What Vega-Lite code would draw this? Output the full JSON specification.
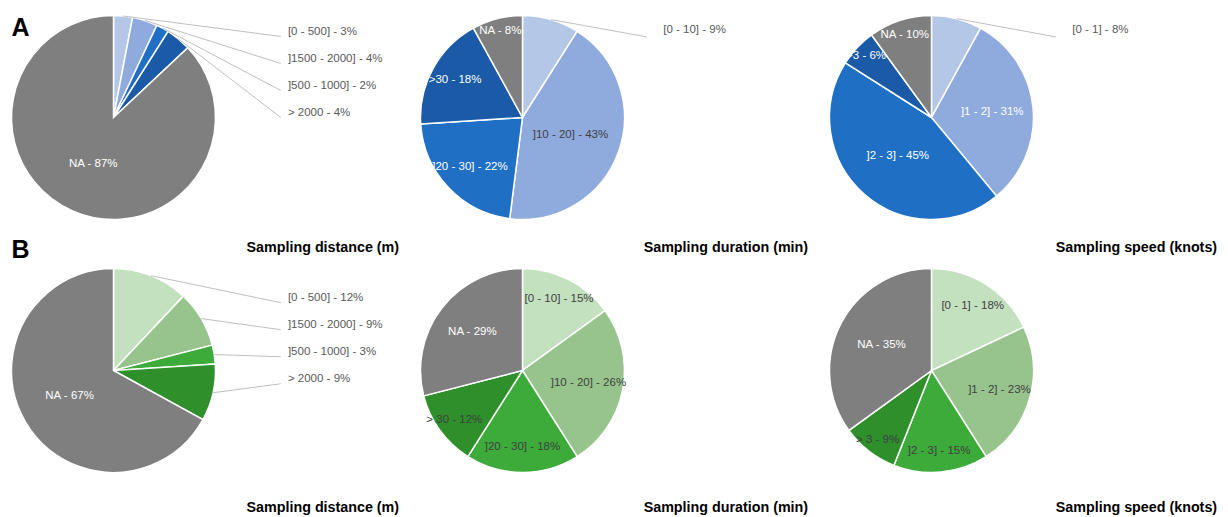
{
  "$schema": "https://vega.github.io/schema/vega-lite/v6.json",
  "padding": 0,
  "background": "white",
  "data": {
    "values": [
      {"group": "A", "variable": "Sampling distance (m)", "cat": "[0 - 500]", "pct": 3, "ord": 1},
      {"group": "A", "variable": "Sampling distance (m)", "cat": "]1500 - 2000]", "pct": 4, "ord": 2},
      {"group": "A", "variable": "Sampling distance (m)", "cat": "]500 - 1000]", "pct": 2, "ord": 3},
      {"group": "A", "variable": "Sampling distance (m)", "cat": "> 2000", "pct": 4, "ord": 4},
      {"group": "A", "variable": "Sampling distance (m)", "cat": "NA", "pct": 87, "ord": 5},
      {"group": "A", "variable": "Sampling duration (min)", "cat": "[0 - 10]", "pct": 9, "ord": 1},
      {"group": "A", "variable": "Sampling duration (min)", "cat": "]10 - 20]", "pct": 43, "ord": 2},
      {"group": "A", "variable": "Sampling duration (min)", "cat": "]20 - 30]", "pct": 22, "ord": 3},
      {"group": "A", "variable": "Sampling duration (min)", "cat": ">30", "pct": 18, "ord": 4},
      {"group": "A", "variable": "Sampling duration (min)", "cat": "NA", "pct": 8, "ord": 5},
      {"group": "A", "variable": "Sampling speed (knots)", "cat": "[0 - 1]", "pct": 8, "ord": 1},
      {"group": "A", "variable": "Sampling speed (knots)", "cat": "]1 - 2]", "pct": 31, "ord": 2},
      {"group": "A", "variable": "Sampling speed (knots)", "cat": "]2 - 3]", "pct": 45, "ord": 3},
      {"group": "A", "variable": "Sampling speed (knots)", "cat": ">3", "pct": 6, "ord": 4},
      {"group": "A", "variable": "Sampling speed (knots)", "cat": "NA", "pct": 10, "ord": 5},
      {"group": "B", "variable": "Sampling distance (m)", "cat": "[0 - 500]", "pct": 12, "ord": 1},
      {"group": "B", "variable": "Sampling distance (m)", "cat": "]1500 - 2000]", "pct": 9, "ord": 2},
      {"group": "B", "variable": "Sampling distance (m)", "cat": "]500 - 1000]", "pct": 3, "ord": 3},
      {"group": "B", "variable": "Sampling distance (m)", "cat": "> 2000", "pct": 9, "ord": 4},
      {"group": "B", "variable": "Sampling distance (m)", "cat": "NA", "pct": 67, "ord": 5},
      {"group": "B", "variable": "Sampling duration (min)", "cat": "[0 - 10]", "pct": 15, "ord": 1},
      {"group": "B", "variable": "Sampling duration (min)", "cat": "]10 - 20]", "pct": 26, "ord": 2},
      {"group": "B", "variable": "Sampling duration (min)", "cat": "]20 - 30]", "pct": 18, "ord": 3},
      {"group": "B", "variable": "Sampling duration (min)", "cat": "> 30", "pct": 12, "ord": 4},
      {"group": "B", "variable": "Sampling duration (min)", "cat": "NA", "pct": 29, "ord": 5},
      {"group": "B", "variable": "Sampling speed (knots)", "cat": "[0 - 1]", "pct": 18, "ord": 1},
      {"group": "B", "variable": "Sampling speed (knots)", "cat": "]1 - 2]", "pct": 23, "ord": 2},
      {"group": "B", "variable": "Sampling speed (knots)", "cat": "]2 - 3]", "pct": 15, "ord": 3},
      {"group": "B", "variable": "Sampling speed (knots)", "cat": "> 3", "pct": 9, "ord": 4},
      {"group": "B", "variable": "Sampling speed (knots)", "cat": "NA", "pct": 35, "ord": 5}
    ]
  },
  "transform": [
    {"window": [{"op": "sum", "field": "pct", "as": "cum"}], "groupby": ["group", "variable"], "sort": [{"field": "ord", "order": "ascending"}], "frame": [null, 0]},
    {"calculate": "datum.cum - datum.pct", "as": "start"},
    {"calculate": "(datum.cum - datum.pct / 2) / 100 * 2 * PI", "as": "ang"},
    {"calculate": "datum.variable === 'Sampling distance (m)'", "as": "isDist"},
    {"calculate": "datum.cat !== 'NA' && (datum.isDist || (datum.group === 'A' && datum.ord === 1))", "as": "outside"},
    {"calculate": "max(0.5, min(0.88, 0.97 - 0.012 * datum.pct))", "as": "lr"},
    {"calculate": "datum.outside ? (datum.isDist ? 1.71 : 1.38) : datum.lr * sin(datum.ang)", "as": "lx"},
    {"calculate": "datum.outside ? (datum.isDist ? (datum.group === 'A' ? 0.84 : 0.71) - 0.265 * (datum.ord - 1) : 0.86) : datum.lr * cos(datum.ang)", "as": "ly"},
    {"calculate": "sin(datum.ang)", "as": "ex"},
    {"calculate": "cos(datum.ang)", "as": "ey"},
    {"calculate": "datum.lx - (datum.isDist ? 0.07 : 0.16)", "as": "px"},
    {"calculate": "datum.ly - (datum.isDist ? 0.045 : 0.07)", "as": "py"},
    {"calculate": "datum.cat + ' - ' + datum.pct + '%'", "as": "label"},
    {"calculate": "datum.group + datum.ord", "as": "key"},
    {"calculate": "datum.group === 'A' ? -1.28 : -1.348", "as": "ty"},
    {"calculate": "datum.group === 'A' ? 0.80 : 1.103", "as": "gy"}
  ],
  "facet": {
    "row": {"field": "group", "type": "nominal", "header": null},
    "column": {"field": "variable", "type": "nominal", "header": null, "sort": ["Sampling distance (m)", "Sampling duration (min)", "Sampling speed (knots)"]}
  },
  "spacing": {"row": 0, "column": 0},
  "bounds": "flush",
  "spec": {
    "width": 409,
    "height": 253,
    "layer": [
      {
        "mark": {"type": "arc", "outerRadius": 102, "stroke": "white", "strokeWidth": 1.5},
        "encoding": {
          "x": {"datum": 0, "type": "quantitative", "scale": {"domain": [-1.1127, 2.8971], "nice": false, "zero": false}, "axis": null},
          "y": {"datum": 0, "type": "quantitative", "scale": {"domain": [-1.3284, 1.152], "nice": false, "zero": false}, "axis": null},
          "theta": {"field": "start", "type": "quantitative", "scale": {"domain": [0, 100]}},
          "theta2": {"field": "cum"},
          "color": {
            "field": "key", "type": "nominal", "legend": null,
            "scale": {
              "domain": ["A1", "A2", "A3", "A4", "A5", "B1", "B2", "B3", "B4", "B5"],
              "range": ["#b4c7e7", "#8faadc", "#1f6fc5", "#1a5aa6", "#7f7f7f", "#c3e0bf", "#96c48c", "#3dab3a", "#2e8f2b", "#7f7f7f"]
            }
          }
        }
      },
      {
        "transform": [{"filter": "datum.outside"}],
        "mark": {"type": "rule", "color": "#bfbfbf", "strokeWidth": 1},
        "encoding": {
          "x": {"field": "ex", "type": "quantitative", "scale": {"domain": [-1.1127, 2.8971], "nice": false, "zero": false}, "axis": null},
          "y": {"field": "ey", "type": "quantitative", "scale": {"domain": [-1.3284, 1.152], "nice": false, "zero": false}, "axis": null},
          "x2": {"field": "px"},
          "y2": {"field": "py"}
        }
      },
      {
        "transform": [{"filter": "!datum.outside"}],
        "mark": {"type": "text", "align": "center", "baseline": "middle", "font": "Liberation Sans", "fontSize": 11.5},
        "encoding": {
          "x": {"field": "lx", "type": "quantitative", "scale": {"domain": [-1.1127, 2.8971], "nice": false, "zero": false}, "axis": null},
          "y": {"field": "ly", "type": "quantitative", "scale": {"domain": [-1.3284, 1.152], "nice": false, "zero": false}, "axis": null},
          "text": {"field": "label", "type": "nominal"},
          "color": {
            "condition": {"test": "datum.cat === 'NA' || (datum.group === 'A' && (datum.ord >= 3 || datum.variable === 'Sampling speed (knots)'))", "value": "#ffffff"},
            "value": "#404040"
          }
        }
      },
      {
        "transform": [{"filter": "datum.outside"}],
        "mark": {"type": "text", "align": "left", "baseline": "middle", "font": "Liberation Sans", "fontSize": 11.5, "color": "#595959"},
        "encoding": {
          "x": {"field": "lx", "type": "quantitative", "scale": {"domain": [-1.1127, 2.8971], "nice": false, "zero": false}, "axis": null},
          "y": {"field": "ly", "type": "quantitative", "scale": {"domain": [-1.3284, 1.152], "nice": false, "zero": false}, "axis": null},
          "text": {"field": "label", "type": "nominal"}
        }
      },
      {
        "transform": [{"filter": "datum.ord === 1"}],
        "mark": {"type": "text", "align": "right", "baseline": "middle", "font": "Liberation Sans", "fontSize": 14.3, "fontWeight": "bold", "color": "#000000"},
        "encoding": {
          "x": {"datum": 2.8, "type": "quantitative", "scale": {"domain": [-1.1127, 2.8971], "nice": false, "zero": false}, "axis": null},
          "y": {"field": "ty", "type": "quantitative", "scale": {"domain": [-1.3284, 1.152], "nice": false, "zero": false}, "axis": null},
          "text": {"field": "variable", "type": "nominal"}
        }
      },
      {
        "transform": [{"filter": "datum.ord === 1 && datum.isDist"}],
        "mark": {"type": "text", "align": "left", "baseline": "alphabetic", "font": "Liberation Sans", "fontSize": 25, "fontWeight": "bold", "color": "#000000"},
        "encoding": {
          "x": {"datum": -1.0, "type": "quantitative", "scale": {"domain": [-1.1127, 2.8971], "nice": false, "zero": false}, "axis": null},
          "y": {"field": "gy", "type": "quantitative", "scale": {"domain": [-1.3284, 1.152], "nice": false, "zero": false}, "axis": null},
          "text": {"field": "group", "type": "nominal"}
        }
      }
    ]
  },
  "config": {
    "view": {"stroke": null}
  }
}
